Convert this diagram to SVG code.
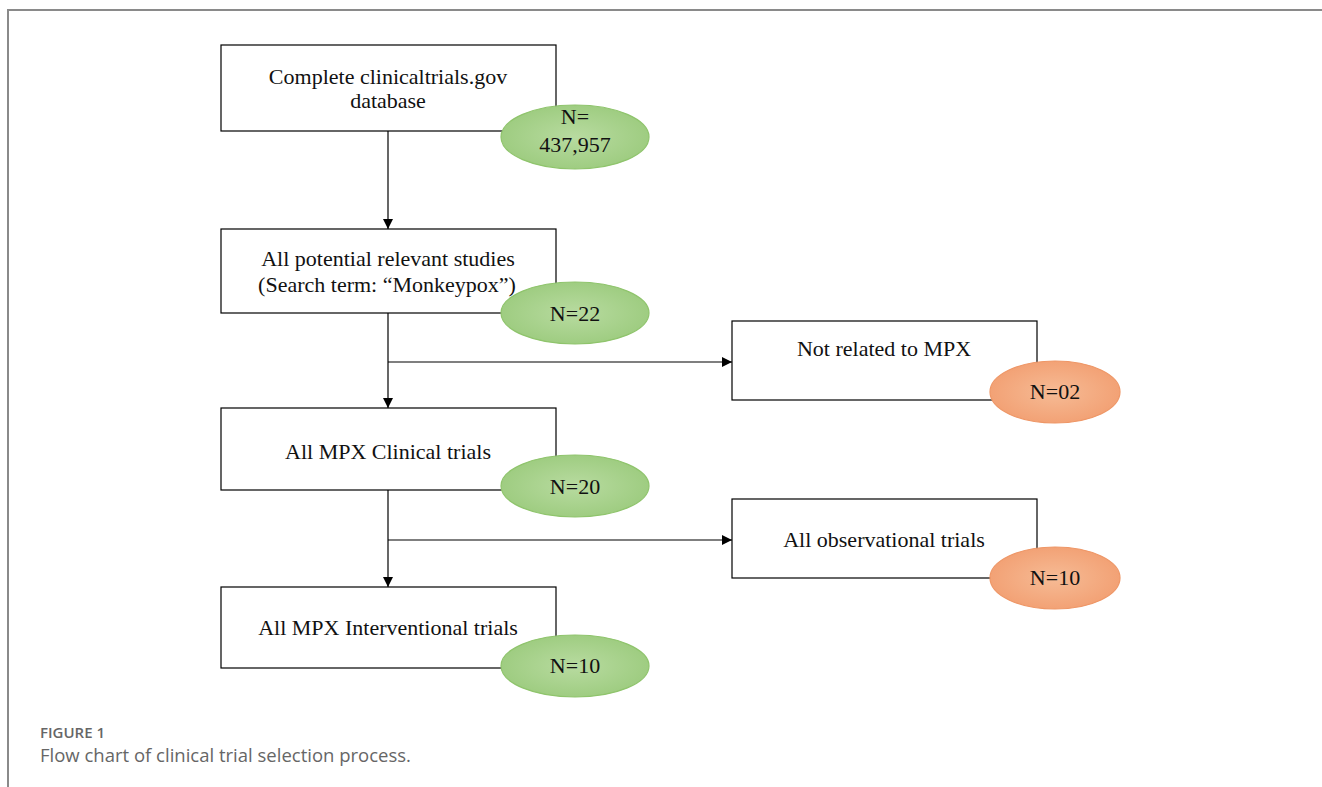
<svg xmlns="http://www.w3.org/2000/svg" width="1322" height="787" viewBox="0 0 1322 787">
<defs>
<radialGradient id="gG" cx="50%" cy="50%" r="55%"><stop offset="0" stop-color="#b8dba0"/><stop offset="1" stop-color="#9ccb7e"/></radialGradient>
<radialGradient id="gO" cx="50%" cy="50%" r="55%"><stop offset="0" stop-color="#f6bb95"/><stop offset="1" stop-color="#f29f72"/></radialGradient>
<marker id="arr" viewBox="0 0 10 10" refX="10" refY="5" markerWidth="10" markerHeight="10" markerUnits="userSpaceOnUse" orient="auto"><path d="M0,0 L10,5 L0,10 z" fill="#000"/></marker>
</defs>
<style>
.box{fill:#fff;stroke:#000;stroke-width:1.2}
.eg{fill:url(#gG);stroke:#8fc46c;stroke-width:1.2}
.eo{fill:url(#gO);stroke:#ee9666;stroke-width:1.2}
.t{font-family:"Liberation Serif",serif;font-size:22px;fill:#111;text-anchor:middle}
.c{fill:none;stroke:#000;stroke-width:1.2}
</style>
<rect width="1322" height="787" fill="#fff"/>
<path d="M8,787 V10 H1322" fill="none" stroke="#8a8a8a" stroke-width="2"/>
<g id="connectors">
<path class="c" d="M388,131 V229" marker-end="url(#arr)"/>
<path class="c" d="M388,313 V408" marker-end="url(#arr)"/>
<path class="c" d="M388,362 H732" marker-end="url(#arr)"/>
<path class="c" d="M388,490 V587" marker-end="url(#arr)"/>
<path class="c" d="M388,540 H732" marker-end="url(#arr)"/>
</g>
<g id="n1"><rect class="box" x="221" y="45" width="335" height="86"/>
<text class="t" x="388" y="84">Complete clinicaltrials.gov</text><text class="t" x="388" y="108">database</text></g>
<g id="e1"><ellipse class="eg" cx="575" cy="137" rx="74" ry="32"/>
<text class="t" x="575" y="124">N=</text><text class="t" x="575" y="152">437,957</text></g>
<g id="n2"><rect class="box" x="221" y="229" width="335" height="84"/>
<text class="t" x="388" y="266">All potential relevant studies</text><text class="t" x="387" y="292">(Search term: “Monkeypox”)</text></g>
<g id="e2"><ellipse class="eg" cx="575" cy="313" rx="74" ry="31"/>
<text class="t" x="575" y="321">N=22</text></g>
<g id="n3"><rect class="box" x="732" y="321" width="305" height="79"/>
<text class="t" x="884" y="356">Not related to MPX</text></g>
<g id="e3"><ellipse class="eo" cx="1055" cy="392" rx="65" ry="31"/>
<text class="t" x="1055" y="399">N=02</text></g>
<g id="n4"><rect class="box" x="221" y="408" width="335" height="82"/>
<text class="t" x="388" y="459">All MPX Clinical trials</text></g>
<g id="e4"><ellipse class="eg" cx="575" cy="486" rx="74" ry="31"/>
<text class="t" x="575" y="494">N=20</text></g>
<g id="n5"><rect class="box" x="732" y="499" width="305" height="79"/>
<text class="t" x="884" y="547">All observational trials</text></g>
<g id="e5"><ellipse class="eo" cx="1055" cy="578" rx="65" ry="31"/>
<text class="t" x="1055" y="585">N=10</text></g>
<g id="n6"><rect class="box" x="221" y="587" width="335" height="81"/>
<text class="t" x="388" y="635">All MPX Interventional trials</text></g>
<g id="e6"><ellipse class="eg" cx="575" cy="666" rx="74" ry="31"/>
<text class="t" x="575" y="673">N=10</text></g>
<g id="caption">
<text x="40" y="738" font-family="'Open Sans',sans-serif" font-size="15" font-weight="600" fill="#666">FIGURE 1</text>
<text x="40" y="762" font-family="'Open Sans',sans-serif" font-size="18.5" fill="#666">Flow chart of clinical trial selection process.</text>
</g>
</svg>
